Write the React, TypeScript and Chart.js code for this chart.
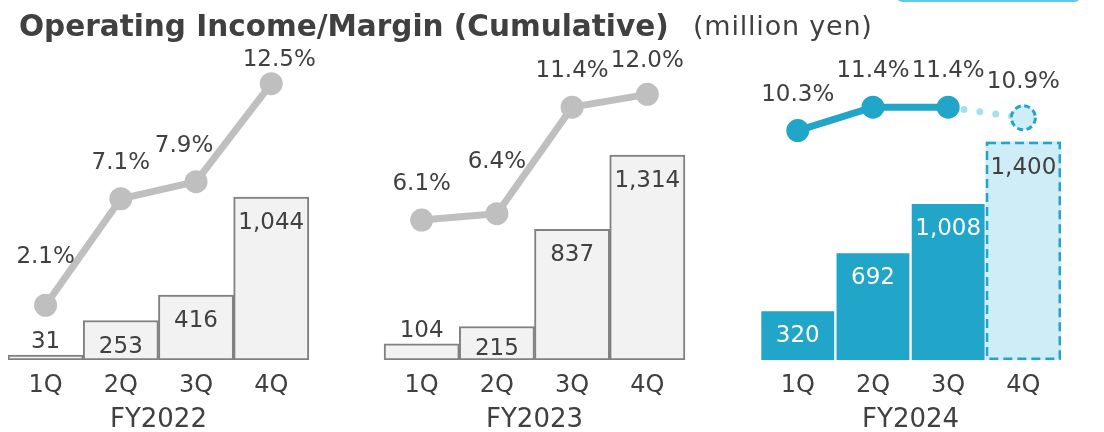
import React, { useEffect, useRef } from 'react';
import { Chart, registerables } from 'chart.js';

Chart.register(...registerables);

// ---- data ----
const quarters = ['1Q', '2Q', '3Q', '4Q'];
const fiscalYears = ['FY2022', 'FY2023', 'FY2024'];
const income2022 = [31, 253, 416, 1044];
const income2023 = [104, 215, 837, 1314];
const income2024 = [320, 692, 1008, 1400]; // 4Q is forecast
const margin2022 = [2.1, 7.1, 7.9, 12.5];
const margin2023 = [6.1, 6.4, 11.4, 12.0];
const margin2024 = [10.3, 11.4, 11.4, 10.9]; // 4Q is forecast

// ---- styles ----
const FONT = '"DejaVu Sans", "Noto Sans CJK JP", sans-serif';
const TEXT = '#404040';
const GRAY_LINE = '#bfbfbf';
const BAR_FILL = '#f2f2f2';
const BAR_EDGE = '#808080';
const TEAL = '#21a5c9';
const LIGHT_FILL = '#cfedf6';
const DOTS = '#a6dff0';

// label nudges (dx, dy) for margin labels, by combined index
const pctNudge: Record<number, [number, number]> = {
  0: [0, -12],
  2: [-12, 0],
  3: [8, 12],
  6: [0, -16],
  8: [0, 3],
};

const labels = [...quarters, '', ...quarters, '', ...quarters];
const income: (number | null)[] = [...income2022, null, ...income2023, null, ...income2024];
const margin: (number | null)[] = [...margin2022, null, ...margin2023, null, ...margin2024];
const FORECAST = labels.length - 1;
const isCurrent = (i: number) => i >= 10;
const fyCenters = fiscalYears.map((_, g) => g * 5 + 1.5);

const overlayPlugin = {
  id: 'overlay',
  afterDatasetsDraw(chart: any) {
    const ctx = chart.ctx;
    const barMeta = chart.getDatasetMeta(0);
    const lineMeta = chart.getDatasetMeta(1);
    ctx.save();
    // dashed forecast bar
    const fb = barMeta.data[FORECAST];
    if (fb) {
      const p = fb.getProps(['x', 'y', 'base', 'width'], true);
      ctx.setLineDash([9, 5]);
      ctx.lineWidth = 2.5;
      ctx.strokeStyle = TEAL;
      ctx.strokeRect(p.x - p.width / 2 + 1.25, p.y + 1.25, p.width - 2.5, p.base - p.y - 2.5);
    }
    // dashed forecast point
    const fp = lineMeta.data[FORECAST];
    if (fp) {
      ctx.setLineDash([6, 3.5]);
      ctx.lineWidth = 3;
      ctx.strokeStyle = TEAL;
      ctx.beginPath();
      ctx.arc(fp.x, fp.y, 12, 0, Math.PI * 2);
      ctx.stroke();
    }
    ctx.setLineDash([]);
    ctx.textAlign = 'center';
    ctx.textBaseline = 'middle';
    ctx.font = `23px ${FONT}`;
    // bar labels
    barMeta.data.forEach((el: any, i: number) => {
      const v = income[i];
      if (v == null) return;
      const p = el.getProps(['x', 'y', 'base'], true);
      const h = p.base - p.y;
      const ty = h < 30 ? p.y - 13 : Math.min(p.y + 26, 349);
      ctx.fillStyle = isCurrent(i) && i !== FORECAST ? '#ffffff' : TEXT;
      ctx.fillText(v.toLocaleString('en-US'), p.x, ty);
    });
    // margin labels
    lineMeta.data.forEach((el: any, i: number) => {
      const v = margin[i];
      if (v == null) return;
      const [dx, dy] = pctNudge[i] || [0, 0];
      ctx.fillStyle = TEXT;
      ctx.fillText(v.toFixed(1) + '%', el.x + dx, el.y - 36 + dy);
    });
    ctx.restore();
  },
};

export default function App() {
  const ref = useRef<HTMLCanvasElement | null>(null);
  useEffect(() => {
    if (!ref.current) return;
    const chart = new Chart(ref.current, {
      data: {
        labels,
        datasets: [
          {
            type: 'bar',
            data: income,
            yAxisID: 'y',
            order: 2,
            categoryPercentage: 1,
            barPercentage: 1,
            backgroundColor: (c: any) =>
              c.dataIndex === FORECAST ? LIGHT_FILL : isCurrent(c.dataIndex) ? TEAL : BAR_FILL,
            borderColor: (c: any) => (isCurrent(c.dataIndex) ? '#ffffff' : BAR_EDGE),
            borderWidth: (c: any) =>
              c.dataIndex === FORECAST ? 0 : isCurrent(c.dataIndex) ? 1.5 : 2,
            borderSkipped: (c: any) => (isCurrent(c.dataIndex) ? 'start' : false),
          } as any,
          {
            type: 'line',
            data: margin,
            yAxisID: 'y1',
            order: 1,
            spanGaps: false,
            borderWidth: 7,
            borderColor: GRAY_LINE,
            borderCapStyle: 'round',
            segment: {
              borderColor: (c: any) =>
                c.p0DataIndex === FORECAST - 1 ? DOTS : isCurrent(c.p0DataIndex) ? TEAL : GRAY_LINE,
              borderDash: (c: any) => (c.p0DataIndex === FORECAST - 1 ? [0, 16] : undefined),
            },
            pointRadius: (c: any) => (c.dataIndex === FORECAST ? 12 : 11.5),
            pointHoverRadius: 11.5,
            pointBorderWidth: 0,
            pointBackgroundColor: (c: any) =>
              c.dataIndex === FORECAST ? LIGHT_FILL : isCurrent(c.dataIndex) ? TEAL : GRAY_LINE,
          } as any,
        ],
      },
      options: {
        responsive: false,
        animation: false,
        layout: { padding: 0, autoPadding: false },
        plugins: { legend: { display: false }, tooltip: { enabled: false } },
        scales: {
          x: {
            type: 'category',
            offset: true,
            weight: 0,
            grid: { display: false },
            border: { display: false },
            ticks: {
              color: TEXT,
              font: { family: FONT, size: 24 },
              padding: 3,
              autoSkip: false,
              maxRotation: 0,
            },
            afterFit: (s: any) => {
              s.height = 36;
              s.paddingLeft = 0;
              s.paddingRight = 0;
            },
          },
          fy: {
            type: 'linear',
            position: 'bottom',
            weight: 1,
            min: -0.5,
            max: 13.5,
            grid: { display: false },
            border: { display: false },
            afterBuildTicks: (s: any) => {
              s.ticks = fyCenters.map((v) => ({ value: v }));
            },
            ticks: {
              color: TEXT,
              font: { family: FONT, size: 26 },
              padding: 1,
              autoSkip: false,
              maxRotation: 0,
              callback: (_v: any, i: number) => fiscalYears[i],
            },
            afterFit: (s: any) => {
              s.height = 36;
              s.paddingLeft = 0;
              s.paddingRight = 0;
            },
          },
          y: { display: false, min: 0, max: 2308 },
          y1: { display: false, min: -0.47, max: 16.43 },
        },
      } as any,
      plugins: [overlayPlugin],
    });
    return () => chart.destroy();
  }, []);

  return (
    <div style={{ position: 'fixed', left: 0, top: 0, width: 1104, height: 432, background: '#fff', overflow: 'hidden' }}>
      <div
        style={{
          position: 'absolute',
          left: 895,
          top: -14,
          width: 183,
          height: 12,
          border: '2px solid #5ccbe9',
          borderRadius: 8,
        }}
      />
      <canvas
        ref={ref}
        width={1053}
        height={432}
        style={{ position: 'absolute', left: 8, top: 0, width: 1053, height: 432 }}
      />
      <div
        style={{
          position: 'absolute',
          left: 19,
          top: 12,
          whiteSpace: 'nowrap',
          fontFamily: FONT,
          color: TEXT,
          lineHeight: '29px',
          fontSize: 29.5,
          fontWeight: 'bold',
        }}
      >
        Operating Income/Margin (Cumulative)
      </div>
      <div
        style={{
          position: 'absolute',
          left: 693,
          top: 12,
          whiteSpace: 'nowrap',
          fontFamily: FONT,
          color: TEXT,
          lineHeight: '27px',
          fontSize: 27,
          letterSpacing: 0.8,
        }}
      >
        (million yen)
      </div>
    </div>
  );
}
